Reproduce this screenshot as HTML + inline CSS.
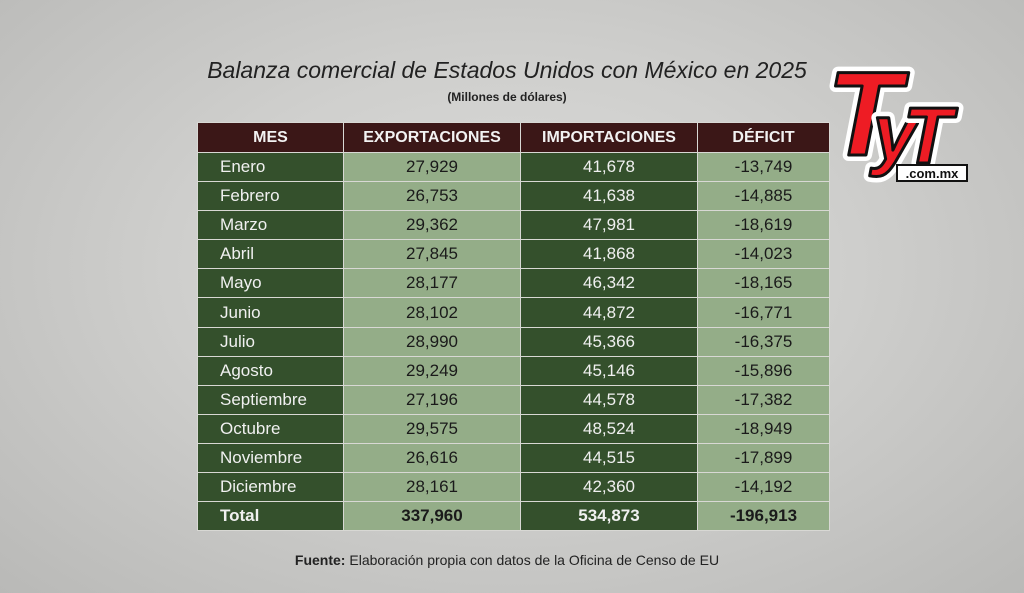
<!DOCTYPE html>
<html><head><meta charset="utf-8"><style>
body{margin:0;width:1024px;height:593px;overflow:hidden;font-family:"Liberation Sans",sans-serif;
background:radial-gradient(ellipse at 50% 45%,#dcdcda 0%,#cfcfcd 45%,#b9b9b7 100%);position:relative}
.t{position:absolute;left:-5px;width:1024px;text-align:center}
table{position:absolute;left:197px;top:122px;border-collapse:collapse;table-layout:fixed;width:632px}
td{height:28.1px;border:1.5px solid #d8d8d4;padding:0;font-size:17px;color:#1a1a1a;text-align:center;overflow:hidden;white-space:nowrap}
th{height:27px;background:#3b1717;color:#f2f2f2;font-size:16px;font-weight:bold;border:1.5px solid #d8d8d4;white-space:nowrap}
td.m{background:#34502c;color:#f0f0f0;text-align:left;padding-left:22px}
td.c{background:#34502c;color:#f0f0f0}
td.l{background:#94ad88}
tr.tot td{font-weight:bold}
</style></head><body>
<div class="t" style="top:57px;font-size:23px;font-style:italic;color:#222">Balanza comercial de Estados Unidos con México en 2025</div>
<div class="t" style="top:90px;font-size:12px;font-weight:bold;color:#222">(Millones de dólares)</div>
<table>
<colgroup><col style="width:146px"><col style="width:177px"><col style="width:177px"><col style="width:132px"></colgroup>
<tr><th>MES</th><th>EXPORTACIONES</th><th>IMPORTACIONES</th><th>DÉFICIT</th></tr>
<tr><td class="m">Enero</td><td class="l">27,929</td><td class="c">41,678</td><td class="l">-13,749</td></tr>
<tr><td class="m">Febrero</td><td class="l">26,753</td><td class="c">41,638</td><td class="l">-14,885</td></tr>
<tr><td class="m">Marzo</td><td class="l">29,362</td><td class="c">47,981</td><td class="l">-18,619</td></tr>
<tr><td class="m">Abril</td><td class="l">27,845</td><td class="c">41,868</td><td class="l">-14,023</td></tr>
<tr><td class="m">Mayo</td><td class="l">28,177</td><td class="c">46,342</td><td class="l">-18,165</td></tr>
<tr><td class="m">Junio</td><td class="l">28,102</td><td class="c">44,872</td><td class="l">-16,771</td></tr>
<tr><td class="m">Julio</td><td class="l">28,990</td><td class="c">45,366</td><td class="l">-16,375</td></tr>
<tr><td class="m">Agosto</td><td class="l">29,249</td><td class="c">45,146</td><td class="l">-15,896</td></tr>
<tr><td class="m">Septiembre</td><td class="l">27,196</td><td class="c">44,578</td><td class="l">-17,382</td></tr>
<tr><td class="m">Octubre</td><td class="l">29,575</td><td class="c">48,524</td><td class="l">-18,949</td></tr>
<tr><td class="m">Noviembre</td><td class="l">26,616</td><td class="c">44,515</td><td class="l">-17,899</td></tr>
<tr><td class="m">Diciembre</td><td class="l">28,161</td><td class="c">42,360</td><td class="l">-14,192</td></tr>
<tr class="tot"><td class="m">Total</td><td class="l">337,960</td><td class="c">534,873</td><td class="l">-196,913</td></tr>
</table>
<div class="t" style="top:552px;font-size:14px;color:#222"><b>Fuente:</b> Elaboración propia con datos de la Oficina de Censo de EU</div>
<svg style="position:absolute;left:825px;top:55px" width="150" height="135">
<g font-family="Liberation Sans" font-weight="bold" font-style="italic" stroke-linejoin="round">
<text x="2" y="100" font-size="120" fill="none" stroke="#fff" stroke-width="12">T</text>
<text x="2" y="100" font-size="120" fill="#ee1c24" stroke="#111" stroke-width="3">T</text>
<text x="48" y="105" font-size="80" fill="none" stroke="#fff" stroke-width="12">y</text>
<text x="48" y="105" font-size="80" fill="#ee1c24" stroke="#111" stroke-width="3">y</text>
<text x="78" y="108" font-size="80" fill="none" stroke="#fff" stroke-width="12">T</text>
<text x="78" y="108" font-size="80" fill="#ee1c24" stroke="#111" stroke-width="3">T</text>
</g>
<rect x="72" y="110" width="70" height="16" fill="#fff" stroke="#111" stroke-width="2"/>
<text x="107" y="123" text-anchor="middle" font-family="Liberation Sans" font-weight="bold" font-size="13" fill="#111">.com.mx</text>
</svg>
</body></html>
